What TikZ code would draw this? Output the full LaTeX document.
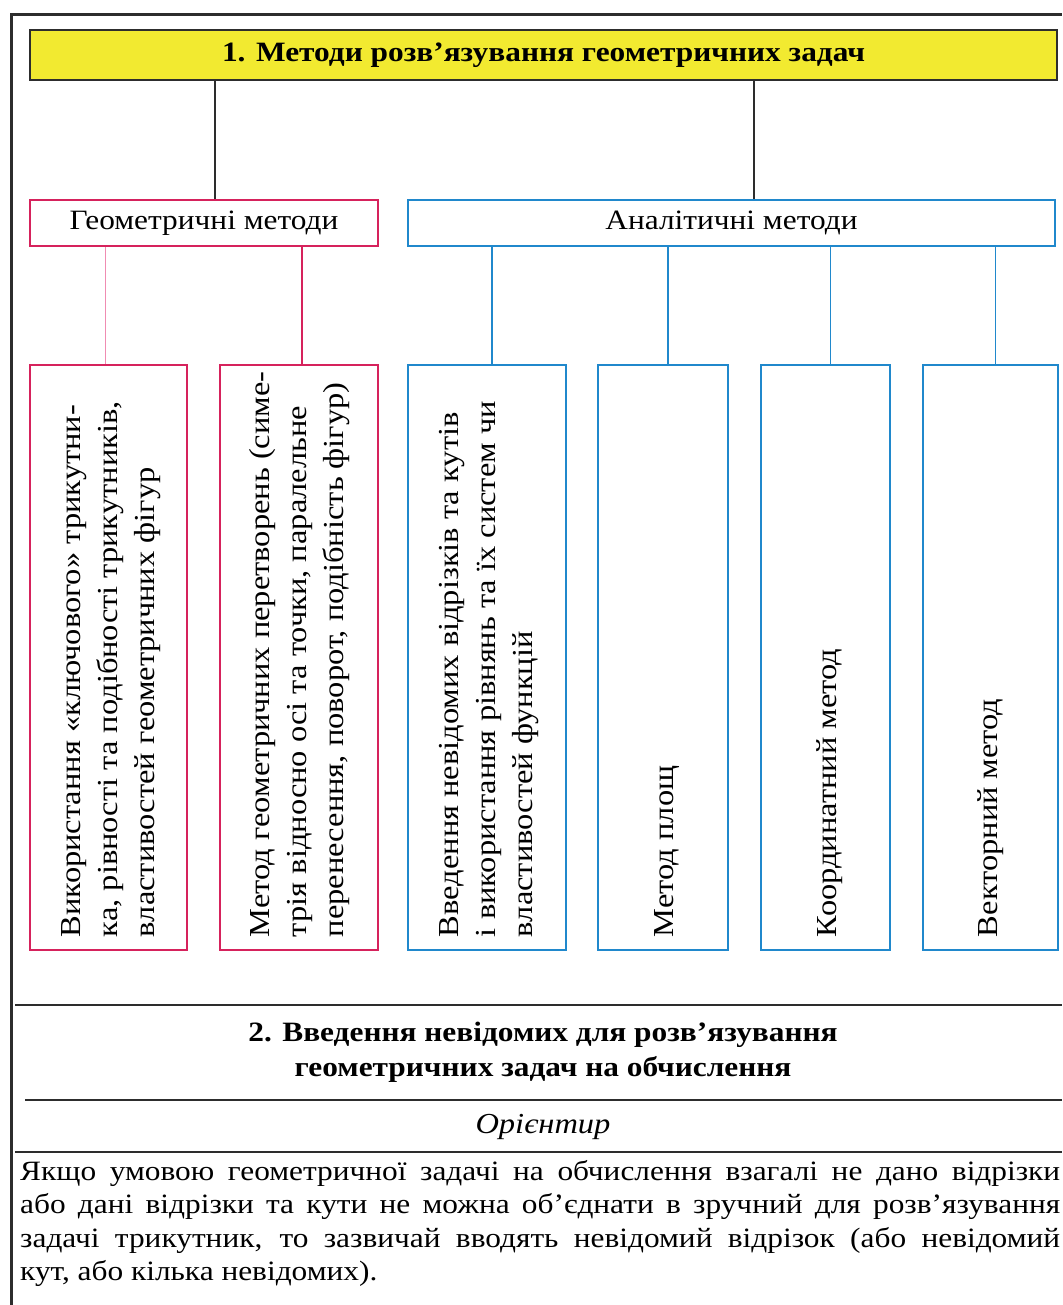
\documentclass[tikz,border=0pt]{standalone}
\usepackage{fontspec}
\setmainfont[FakeStretch=1.12]{Liberation Serif}
\usetikzlibrary{positioning}

\definecolor{titleyellow}{RGB}{242,234,48}
\definecolor{geopink}{RGB}{214,34,92}
\definecolor{geolight}{RGB}{240,140,178}
\definecolor{anablue}{RGB}{32,136,204}
\definecolor{framegray}{RGB}{45,45,45}

\begin{document}
\begin{tikzpicture}[x=1pt, y=-1pt,
    headbox/.style={draw=framegray, line width=1.5pt, fill=titleyellow,
      minimum width=1027pt, minimum height=50pt,
      font=\fontsize{28}{34}\selectfont\bfseries},
    groupbox/.style={draw=#1, line width=2.5pt, fill=white,
      minimum height=46pt, font=\fontsize{28}{34}\selectfont},
    methodbox/.style={draw=#1, line width=2.5pt, minimum height=585pt},
    methodtext/.style={rotate=90, anchor=west, inner sep=0pt, align=left,
      font=\fontsize{29}{37}\selectfont},
    link/.style={line width=1.8pt}]

  \useasboundingbox (0,0) rectangle (1062,1305);

  % frame of the page
  \draw[framegray, line width=3pt] (11,1305) -- (11,15) -- (1062,15);

  % 1. methods
  \node[headbox] (title) at (543.5,55) {1. Методи розв’язування геометричних задач};
  \node[groupbox=geopink, minimum width=348pt] (geo) at (204,223) {Геометричні методи};
  \node[groupbox=anablue, minimum width=647pt] (ana) at (731.5,223) {Аналітичні методи};

  \node[methodbox=geopink, minimum width=157pt] (g1) at (108.5,657.5) {};
  \node[methodbox=geopink, minimum width=158pt] (g2) at (299,657.5) {};
  \node[methodbox=anablue, minimum width=158pt] (a1) at (487,657.5) {};
  \node[methodbox=anablue, minimum width=130pt] (a2) at (663,657.5) {};
  \node[methodbox=anablue, minimum width=129pt] (a3) at (825.5,657.5) {};
  \node[methodbox=anablue, minimum width=135pt] (a4) at (990.5,657.5) {};

  \node[methodtext] (g1text) at ([xshift=3pt,yshift=14pt]g1.south)
    {Використання «ключового» трикутни-\\ка, рівності та подібності трикутників,\\властивостей геометричних фігур};
  \node[methodtext] (g2text) at ([xshift=1pt,yshift=14pt]g2.south)
    {Метод геометричних перетворень (симе-\\трія відносно осі та точки, паралельне\\перенесення, поворот, подібність фігур)};
  \node[methodtext] (a1text) at ([xshift=2pt,yshift=14pt]a1.south)
    {Введення невідомих відрізків та кутів\\і використання рівнянь та їх систем чи\\властивостей функцій};
  \node[methodtext] (a2text) at ([xshift=4pt,yshift=14pt]a2.south) {Метод площ};
  \node[methodtext] (a3text) at ([xshift=4pt,yshift=14pt]a3.south) {Координатний метод};
  \node[methodtext] (a4text) at ([yshift=14pt]a4.south) {Векторний метод};

  % connectors
  \draw[link, framegray] ([xshift=11pt]geo.north) -- ([xshift=11pt]geo.north |- title.south);
  \draw[link, framegray] ([xshift=22.5pt]ana.north) -- ([xshift=22.5pt]ana.north |- title.south);
  \draw[geolight, line width=1.2pt] ([xshift=-3pt]g1.north) -- ([xshift=-3pt]g1.north |- geo.south);
  \draw[link, geopink] ([xshift=3pt]g2.north) -- ([xshift=3pt]g2.north |- geo.south);
  \foreach \m in {a1,a2,a3,a4}
    \draw[link, anablue] ([xshift=5pt]\m.north) -- ([xshift=5pt]\m.north |- ana.south);

  % 2. unknowns
  \draw[framegray, line width=2pt] (15,1005) -- (1062,1005);
  \node[align=center, font=\fontsize{28}{35}\selectfont\bfseries] (part2) at (543,1052)
    {2. Введення невідомих для розв’язування\\геометричних задач на обчислення};
  \draw[framegray, line width=1.5pt] (25,1100) -- (1062,1100);
  \node[font=\fontsize{29}{34}\selectfont\itshape] (hint) at (543,1127) {Орієнтир};
  \draw[framegray, line width=2pt] (15,1152) -- (1062,1152);
  \node[anchor=north west, inner sep=0pt, text width=1040pt, align=justify,
    font=\fontsize{28}{33.5}\selectfont] (rule) at (20,1160)
    {Якщо умовою геометричної задачі на обчислення взагалі не дано відрізки\linebreak
     або дані відрізки та кути не можна об’єднати в зручний для розв’язування\linebreak
     задачі трикутник, то зазвичай вводять невідомий відрізок (або невідомий\linebreak
     кут, або кілька невідомих).};
\end{tikzpicture}
\end{document}
